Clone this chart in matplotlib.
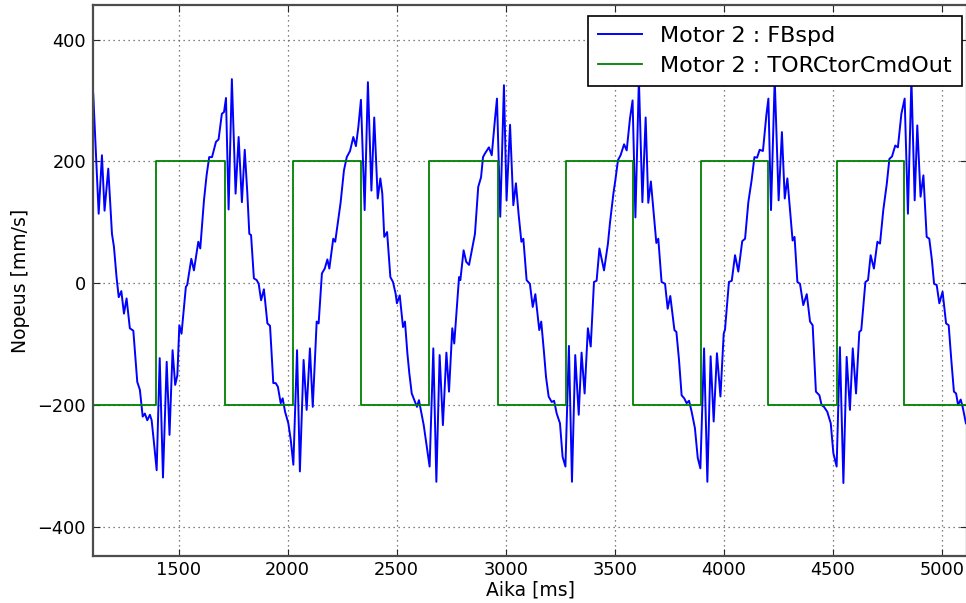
import matplotlib
matplotlib.use("Agg")
import matplotlib.pyplot as plt

# Motor 2 feedback speed [mm/s] sampled against time [ms]
time_ms = [
    1108, 1133, 1148, 1160, 1177, 1194, 1203, 1215, 1225, 1237, 1249, 1261, 1276, 1292, 1310, 1322,
    1335, 1345, 1356, 1368, 1376, 1387, 1399, 1413, 1428, 1445, 1458, 1472, 1484, 1494, 1503, 1513,
    1533, 1539, 1558, 1570, 1590, 1599, 1616, 1628, 1640, 1653, 1671, 1683, 1698, 1708, 1717, 1729,
    1744, 1761, 1775, 1790, 1803, 1815, 1824, 1832, 1845, 1858, 1867, 1878, 1891, 1907, 1919, 1934,
    1945, 1955, 1968, 1977, 1988, 2003, 2014, 2026, 2043, 2056, 2073, 2087, 2102, 2115, 2133, 2142,
    2157, 2170, 2182, 2191, 2209, 2218, 2234, 2243, 2258, 2271, 2286, 2301, 2313, 2324, 2336, 2353,
    2368, 2384, 2397, 2413, 2425, 2434, 2443, 2456, 2471, 2483, 2495, 2501, 2514, 2529, 2538, 2549,
    2558, 2569, 2581, 2593, 2602, 2615, 2624, 2636, 2651, 2668, 2682, 2697, 2712, 2728, 2740, 2755,
    2764, 2786, 2792, 2807, 2819, 2832, 2859, 2874, 2887, 2896, 2905, 2923, 2936, 2951, 2960, 2975,
    2992, 3004, 3020, 3035, 3047, 3059, 3072, 3081, 3096, 3111, 3124, 3136, 3154, 3163, 3176, 3185,
    3197, 3211, 3222, 3234, 3249, 3261, 3274, 3290, 3304, 3319, 3335, 3348, 3362, 3377, 3390, 3405,
    3417, 3430, 3451, 3469, 3478, 3494, 3503, 3515, 3527, 3543, 3555, 3570, 3582, 3595,
    3611, 3627, 3642, 3654, 3666, 3679, 3691, 3700, 3715, 3731, 3743, 3755, 3774, 3783, 3795, 3807,
    3819, 3830, 3841, 3853, 3868, 3881, 3893, 3910, 3925, 3940, 3954, 3969, 3985, 4000, 4006, 4024,
    4037, 4052, 4067, 4085, 4098, 4113, 4128, 4141, 4153, 4165, 4180, 4196, 4205, 4217,
    4234, 4252, 4267, 4280, 4292, 4304, 4316, 4325, 4338, 4350, 4365, 4381, 4396, 4408, 4423, 4439,
    4449, 4460, 4475, 4491, 4503, 4518, 4533, 4549, 4564, 4579, 4592, 4607, 4622, 4631, 4650, 4662,
    4674, 4689, 4705, 4717, 4732, 4748, 4760, 4772, 4787, 4799, 4815, 4830,
    4845, 4861, 4876, 4888, 4903, 4916, 4931, 4943, 4955, 4965, 4977, 4989, 5004, 5020, 5032, 5044,
    5056, 5066, 5075, 5087, 5096, 5111,
]
fb_speed = [
    311, 114, 210, 119, 188, 81, 60, 10, -23, -13, -50, -25, -74, -78, -162, -175,
    -219, -214, -225, -216, -225, -263, -307, -123, -319, -129, -249, -110, -167, -151, -69, -83,
    -6, -3, 40, 21, 68, 57, 136, 177, 207, 207, 232, 236, 278, 281, 304, 121,
    335, 147, 240, 133, 219, 147, 81, 79, 8, 5, -1, -28, -10, -66, -70, -164,
    -164, -170, -197, -189, -211, -230, -257, -298, -110, -309, -126, -208, -107, -203, -63, -66,
    16, 24, 39, 24, 73, 68, 109, 133, 185, 207, 217, 240, 225, 256, 301, 120,
    330, 152, 272, 139, 172, 147, 76, 84, 10, 2, -17, -33, -20, -72, -63, -115,
    -148, -181, -192, -203, -192, -216, -233, -263, -301, -107, -326, -118, -233, -114, -178, -74,
    -99, 10, 5, 54, 35, 30, 81, 158, 174, 207, 213, 223, 210, 270, 303, 109,
    325, 136, 260, 128, 164, 114, 68, 73, 5, -1, -39, -18, -77, -63, -115, -154,
    -186, -195, -193, -214, -230, -285, -301, -103, -326, -118, -216, -114, -181, -74, -104, 2,
    4, 57, 21, 65, 98, 147, 169, 202, 210, 228, 218, 270, 300, 108,
    335, 133, 272, 132, 167, 114, 66, 73, 2, -1, -42, -21, -77, -80, -126, -184,
    -189, -197, -193, -211, -238, -287, -304, -107, -326, -120, -227, -115, -186, -83, -76, 2,
    4, 46, 19, 69, 73, 133, 169, 207, 206, 219, 217, 277, 303, 120,
    335, 136, 248, 139, 172, 120, 70, 76, 2, -1, -36, -18, -63, -69, -178, -184,
    -200, -203, -211, -230, -279, -301, -105, -328, -121, -208, -107, -181, -80, -77, 2, 5,
    46, 24, 68, 65, 120, 163, 204, 208, 226, 223, 278, 303,
    114, 335, 136, 259, 142, 177, 76, 73, 38, -1, -3, -33, -14, -66, -69, -126,
    -178, -181, -200, -191, -203, -230,
]

# Torque command: switching instants [ms] and the level held after each
cmd_time_ms = [1107, 1397, 1714, 2026, 2335, 2650, 2963, 3277, 3582, 3896, 4205, 4518, 4827, 5116]
cmd_level = [-200, 200, -200, 200, -200, 200, -200, 200, -200, 200, -200, 200, -200, -200]

xticks = [1500, 2000, 2500, 3000, 3500, 4000, 4500, 5000]
yticks = [-400, -200, 0, 200, 400]

assert len(time_ms) == len(fb_speed)

W, H = 966, 603
fig = plt.figure(figsize=(W / 100, H / 100), dpi=100)
fig.patch.set_facecolor("white")
ax = fig.add_axes([93 / W, 47.5 / H, 874 / W, 550.1 / H])

ax.plot(time_ms, fb_speed, color=(0, 0, 1), lw=1.4, label="Motor 2 : FBspd")
ax.step(cmd_time_ms, cmd_level, where="post", color=(0, 0.5, 0), lw=1.3,
        label="Motor 2 : TORCtorCmdOut")

ax.set_xlim(1107, 5116)
ax.set_ylim(-447, 456)
ax.set_xticks(xticks)
ax.set_yticks(yticks)
ax.grid(True, color="0.35", linestyle=(0, (1, 3)), linewidth=0.9)

ax.tick_params(direction="in", length=5, width=0.8, top=True, right=True,
               labelsize=12.8, colors="0.15")
ax.tick_params(axis="x", pad=4)
ax.tick_params(axis="y", pad=5)
for lbl in ax.get_xticklabels() + ax.get_yticklabels():
    lbl.set_color("black")
for sp in ax.spines.values():
    sp.set_color("0.3")
    sp.set_linewidth(1.6)

ax.set_xlabel("Aika [ms]", fontsize=13.5, labelpad=1)
ax.set_ylabel("Nopeus [mm/s]", fontsize=13.5, labelpad=5)

leg = ax.legend(loc="upper right", bbox_to_anchor=(0.994, 0.981), borderaxespad=0,
                fontsize=16, fancybox=False, framealpha=1, edgecolor="black",
                handlelength=2.0, handletextpad=0.8, borderpad=0.45, labelspacing=0.45)
leg.get_frame().set_linewidth(1.2)

fig.savefig("out.png", dpi=100, facecolor="white")
